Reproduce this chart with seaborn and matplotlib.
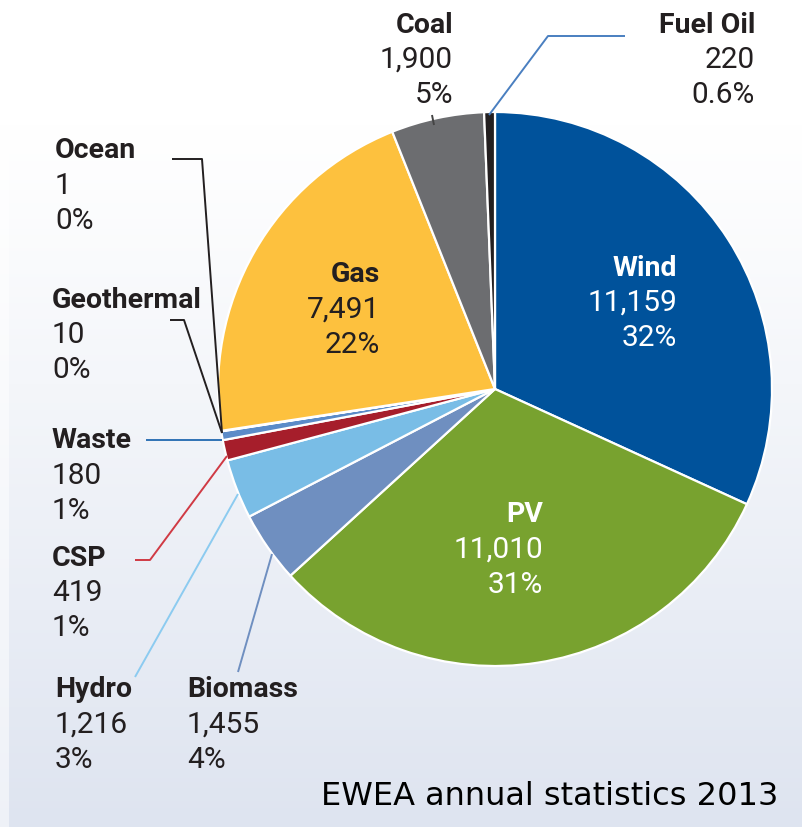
import numpy as np
import matplotlib
matplotlib.use("Agg")
import matplotlib.pyplot as plt
import seaborn as sns

# Installed capacity added in 2013 (MW), clockwise from 12 o'clock
sources = ["Wind", "PV", "Biomass", "Hydro", "CSP", "Waste",
           "Geothermal", "Ocean", "Gas", "Coal", "Fuel Oil"]
capacity_mw = [11159, 11010, 1455, 1216, 419, 180, 10, 1, 7491, 1900, 220]
value_labels = ["11,159", "11,010", "1,455", "1,216", "419", "180",
                "10", "1", "7,491", "1,900", "220"]
share_labels = ["32%", "31%", "4%", "3%", "1%", "1%",
                "0%", "0%", "22%", "5%", "0.6%"]
slice_colors = ["#00529b", "#78a22f", "#6f8fc0", "#79bde6", "#a61e2b", "#5b8bc8",
                "#e8e8e8", "#dddddd", "#fdc13e", "#6c6d70", "#231f20"]

sns.set_theme(style="white")
LABEL_FONT = ["Roboto", "DejaVu Sans"]
plt.rcParams["font.family"] = LABEL_FONT

W, H = 802, 828
fig = plt.figure(figsize=(W / 100, H / 100), dpi=100)
ax = fig.add_axes([0, 0, 1, 1])
ax.set_xlim(0, W)
ax.set_ylim(0, H)
ax.set_aspect("equal")
ax.axis("off")

# soft vertical background gradient: white at the top, pale blue-grey below
t = np.linspace(0, 1, 256)
ramp = np.clip((t - 0.15) / 0.85, 0, 1) ** 1.1
top = np.array([1.0, 1.0, 1.0])
bottom = np.array([222, 228, 240]) / 255
grad = top[None, :] * (1 - ramp[:, None]) + bottom[None, :] * ramp[:, None]
ax.imshow(grad[:, None, :], extent=(9, W, 0, H), aspect="auto", zorder=0,
          origin="upper")
grad_l = top[None, :] * (1 - 0.5 * ramp[:, None]) + bottom[None, :] * 0.5 * ramp[:, None]
ax.imshow(grad_l[:, None, :], extent=(0, 9, 0, H), aspect="auto", zorder=0,
          origin="upper")


def Y(py):
    return H - py


palette = sns.color_palette(slice_colors)
cx, cy, r = 495, 390, 277
ax.pie(capacity_mw, colors=palette, startangle=90, counterclock=False,
       center=(cx, Y(cy)), radius=r, frame=True,
       wedgeprops=dict(edgecolor="white", linewidth=1.6, zorder=2))
ax.set_xlim(0, W)
ax.set_ylim(0, H)
ax.axis("off")

# leader lines for the thin slices
leaders = [
    ("Fuel Oil", "#4a7fc0", [(625, 37), (548, 37), (489, 116)]),
    ("Coal", "#444444", [(432, 116), (434, 126)]),
    ("Ocean", "#231f20", [(172, 160), (202, 160), (222, 434)]),
    ("Geothermal", "#231f20", [(170, 321), (184, 321), (222, 434)]),
    ("Waste", "#2f72b5", [(146, 441), (222, 441)]),
    ("CSP", "#d03a44", [(135, 561), (150, 561), (227, 457)]),
    ("Hydro", "#8ccbf0", [(135, 678), (238, 495)]),
    ("Biomass", "#6f8fc0", [(238, 673), (272, 555)]),
]
for _, col, pts in leaders:
    xs = [p[0] for p in pts]
    ys = [Y(p[1]) for p in pts]
    ax.plot(xs, ys, color=col, lw=1.4, zorder=3, solid_capstyle="butt")

# label blocks: x, y of the first line, alignment, colour
label_pos = {
    "Wind": (677, 268, "right", "white"),
    "PV": (543, 515, "right", "white"),
    "Biomass": (187, 690, "left", "#231f20"),
    "Hydro": (55, 690, "left", "#231f20"),
    "CSP": (52, 558, "left", "#231f20"),
    "Waste": (52, 441, "left", "#231f20"),
    "Geothermal": (52, 300, "left", "#231f20"),
    "Ocean": (55, 151, "left", "#231f20"),
    "Gas": (380, 275, "right", "#231f20"),
    "Coal": (453, 25, "right", "#231f20"),
    "Fuel Oil": (755, 25, "right", "#231f20"),
}
step = 35
fs_name = 20.5
fs_val = 21.5
for name, val, pct in zip(sources, value_labels, share_labels):
    x, y0, ha, col = label_pos[name]
    ax.text(x, Y(y0), name, ha=ha, va="center", fontsize=fs_name,
            fontweight="bold", color=col, zorder=4)
    ax.text(x, Y(y0 + step), val, ha=ha, va="center", fontsize=fs_val,
            color=col, zorder=4)
    ax.text(x, Y(y0 + 2 * step), pct, ha=ha, va="center", fontsize=fs_val,
            color=col, zorder=4)

ax.text(778, Y(797), "EWEA annual statistics 2013", ha="right", va="center",
        fontsize=23, color="black", family=["DejaVu Sans"], zorder=4)

fig.savefig("out.png", dpi=100)
